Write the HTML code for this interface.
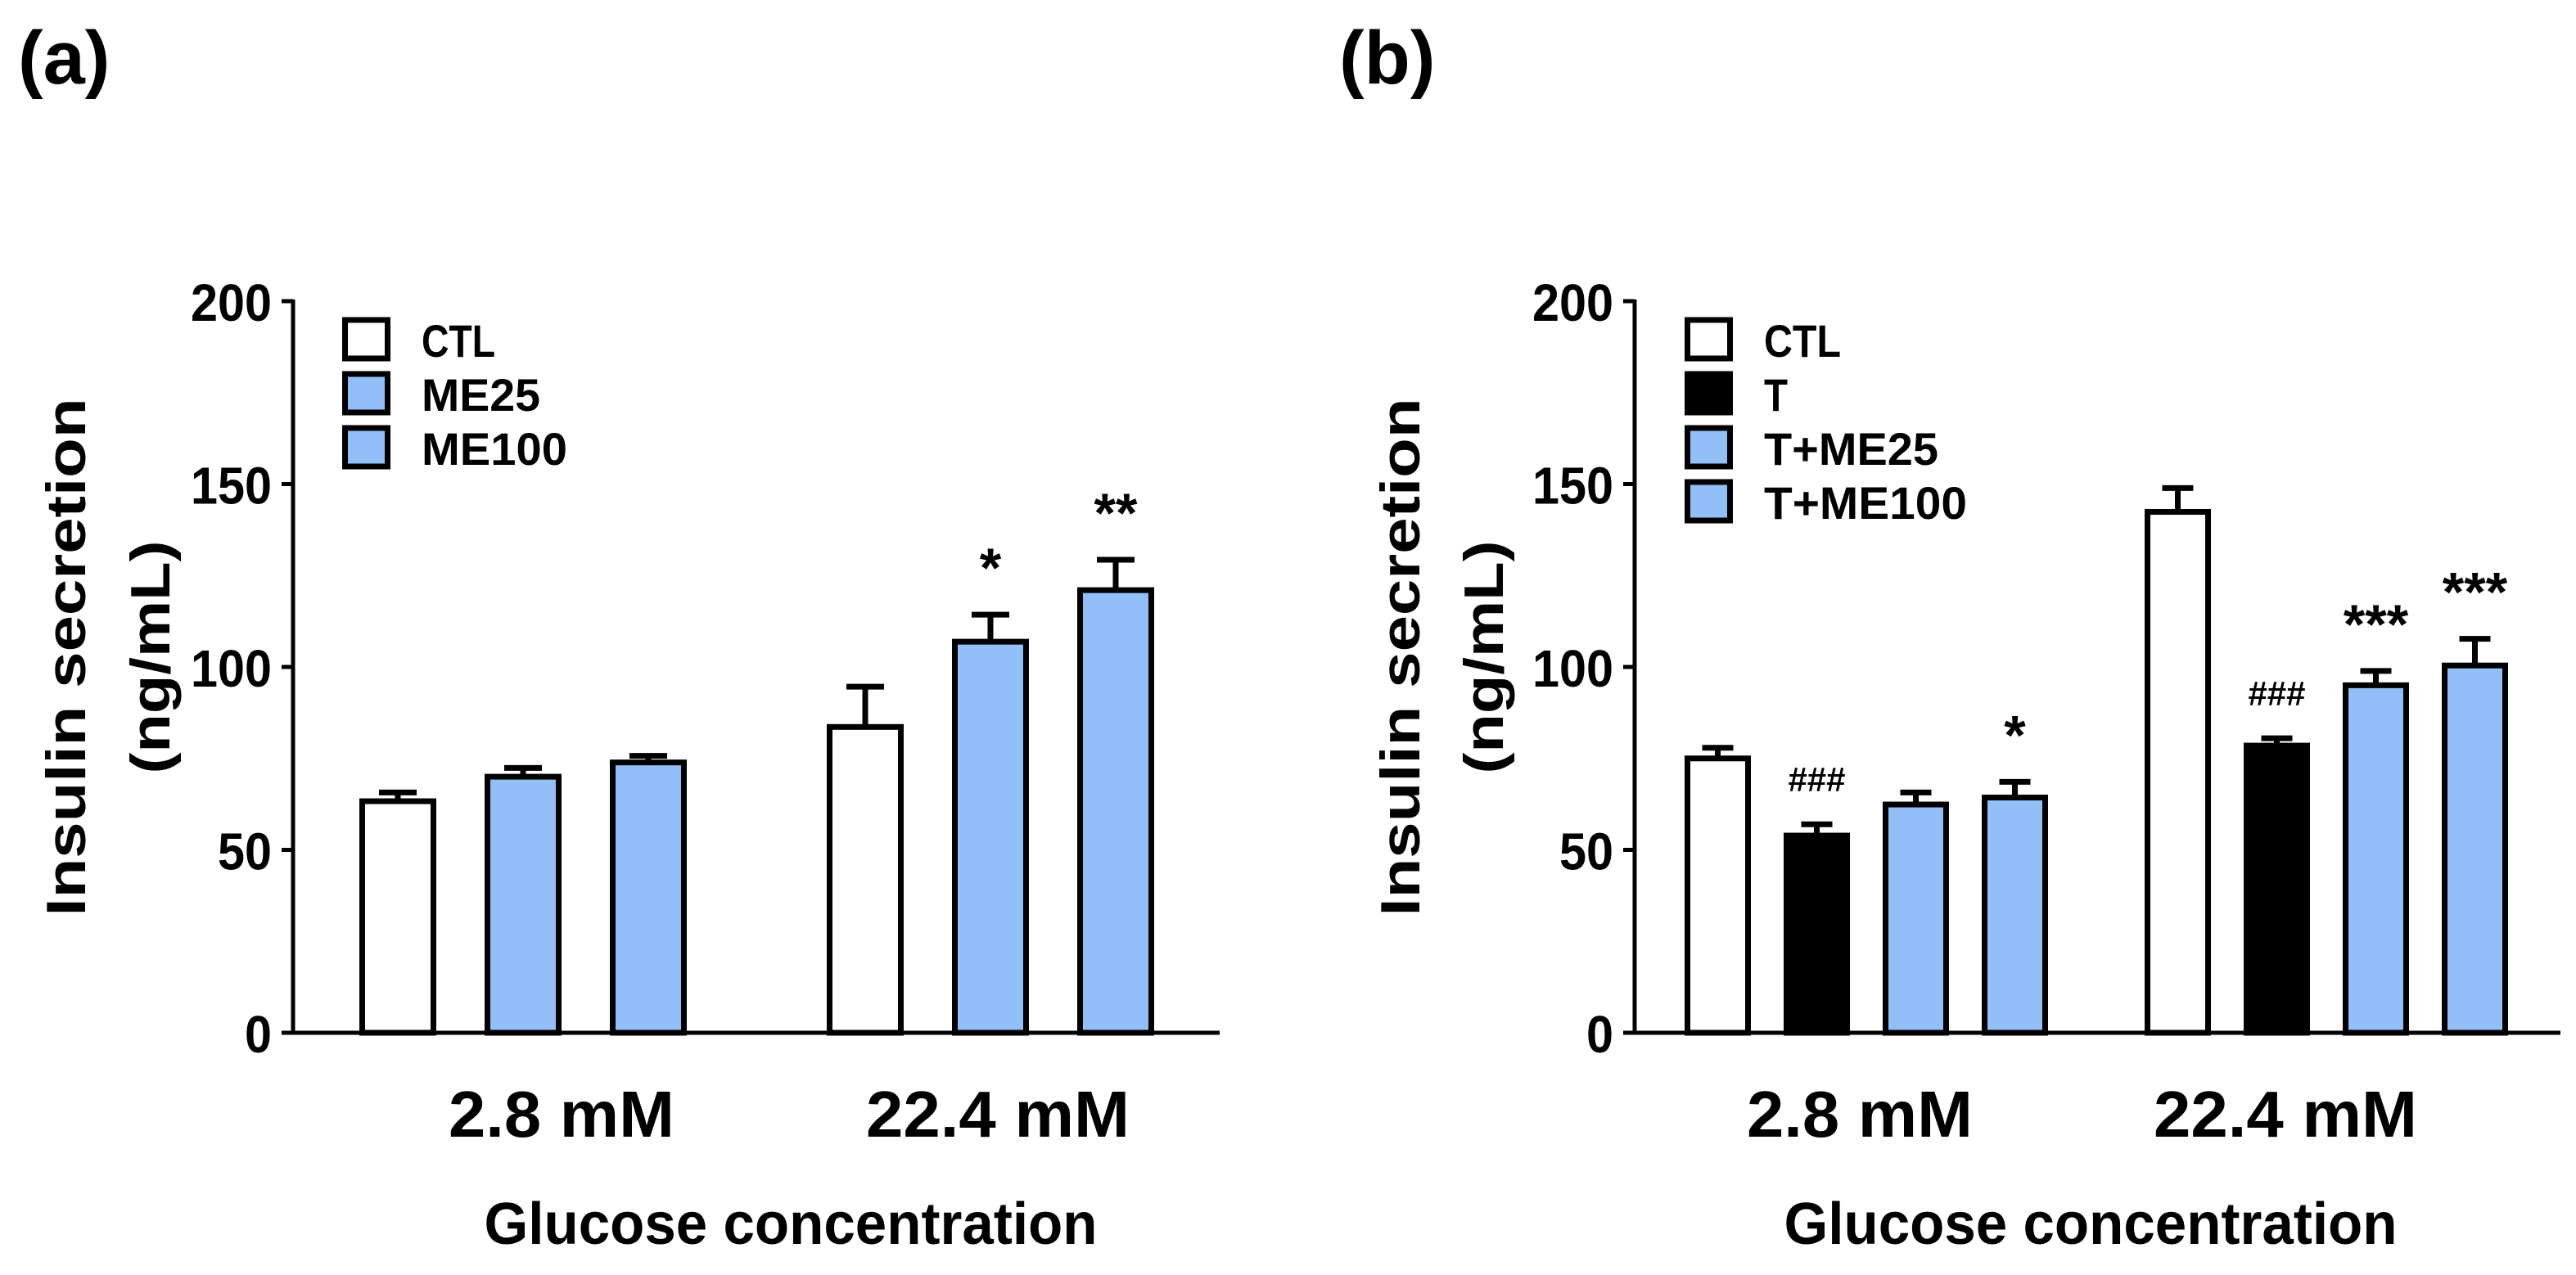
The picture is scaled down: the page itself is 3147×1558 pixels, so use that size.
<!DOCTYPE html>
<html><head><meta charset="utf-8">
<style>
html,body{margin:0;padding:0;background:#fff;}
svg{display:block;}
text{font-family:"Liberation Sans",sans-serif;font-weight:bold;fill:#000;}
</style></head>
<body>
<svg id="chart" width="3147" height="1558" viewBox="0 0 3147 1558" xmlns="http://www.w3.org/2000/svg">
<text x="22" y="102" font-size="92">(a)</text>
<text x="1636" y="102" font-size="92">(b)</text>
<g id="pa"></g>
<g id="pb"></g>
</svg>
<script>
const yTicks = [0, 50, 100, 150, 200];
const groupsLabels = ["2.8 mM", "22.4 mM"];
const aSeries = ["CTL", "ME25", "ME100"];
const aValues = [[63.3, 83.6], [70, 106.9], [73.9, 121]];
const aErrors = [[65.7, 94.6], [72.4, 114.3], [75.7, 129.3]];
const aMarks = [["", ""], ["", "*"], ["", "**"]];
const bSeries = ["CTL", "T", "T+ME25", "T+ME100"];
const bValues = [[75, 142.4], [53.9, 78.5], [62.4, 95], [64.3, 100.4]];
const bErrors = [[77.9, 148.9], [57, 80.5], [65.7, 98.9], [68.6, 107.7]];
const bMarks = [["", ""], ["###", "###"], ["", "***"], ["*", "***"]];

const NS = "http://www.w3.org/2000/svg";
function mk(parent, tag, attrs, txt) {
  const e = document.createElementNS(NS, tag);
  for (const k in attrs) e.setAttribute(k, attrs[k]);
  if (txt !== undefined) e.textContent = txt;
  parent.appendChild(e);
  return e;
}
const BLUE = "#92BFF7";
function yScale(v) { return 1262 - v * (894 / 200); }

function panel(g, cfg) {
  const ax = cfg.axisX;
  // axes
  let e = mk(g, "line", {x1: ax, y1: yScale(200) - 2, x2: ax, y2: yScale(0) + 2, stroke: "#000", "stroke-width": 5});
  
  
  e = mk(g, "line", {x1: ax - 14, y1: yScale(0), x2: cfg.axisEnd, y2: yScale(0), stroke: "#000", "stroke-width": 5});
  
  
  yTicks.forEach(t => {
    const y = yScale(t);
    const tk = mk(g, "line", {x1: ax - 14, y1: y, x2: ax, y2: y, stroke: "#000", "stroke-width": 5});
    
    
    const lb = mk(g, "text", {x: ax - 26, y: y + 24, "font-size": 64, "text-anchor": "end", "textLength": String(t).length * 33, "lengthAdjust": "spacingAndGlyphs"}, String(t));
    
    
  });
  // y title
  let t1 = mk(g, "text", {x: 0, y: 0, "font-size": 68, "text-anchor": "middle", "textLength": 633, "lengthAdjust": "spacingAndGlyphs", transform: `translate(${cfg.t1x},803) rotate(-90)`}, "Insulin secretion");
  
  
  let t2 = mk(g, "text", {x: 0, y: 0, "font-size": 68, "text-anchor": "middle", "textLength": 285, "lengthAdjust": "spacingAndGlyphs", transform: `translate(${cfg.t2x},803) rotate(-90)`}, "(ng/mL)");
  
  
  // bars
  const n = cfg.series.length;
  for (let gi = 0; gi < groupsLabels.length; gi++) {
    const gc = cfg.groupCenters[gi];
    for (let s = 0; s < n; s++) {
      const cx = gc + (s - (n - 1) / 2) * cfg.pitch;
      const v = cfg.values[s][gi], er = cfg.errors[s][gi];
      const yt = yScale(v), ye = yScale(er);
      const el = mk(g, "line", {x1: cx, y1: yt, x2: cx, y2: ye, stroke: "#000", "stroke-width": 7});
      
      
      const cap = mk(g, "line", {x1: cx - cfg.cap / 2, y1: ye, x2: cx + cfg.cap / 2, y2: ye, stroke: "#000", "stroke-width": 7});
      
      
      const r = mk(g, "rect", {x: cx - cfg.bw / 2, y: yt, width: cfg.bw, height: yScale(0) - yt, fill: cfg.fills[s], stroke: "#000", "stroke-width": 7});
      
      
      const m = cfg.marks[s][gi];
      if (m) {
        const hash = m[0] === "#";
        const mt = mk(g, "text", {x: cx, y: ye - (hash ? 40 : 34), "font-size": hash ? 42 : 68, "text-anchor": "middle"}, m);
        
        
      }
    }
    const gl = mk(g, "text", {x: cfg.labelCenters[gi], y: 1389, "font-size": 80, "text-anchor": "middle", "textLength": groupsLabels[gi].length * 46, "lengthAdjust": "spacingAndGlyphs"}, groupsLabels[gi]);
    
    
  }
  const xt = mk(g, "text", {x: cfg.xTitleCenter, y: 1520, "font-size": 72, "text-anchor": "middle", "textLength": 749, "lengthAdjust": "spacingAndGlyphs"}, "Glucose concentration");
  
  
  // legend
  cfg.series.forEach((s, i) => {
    const top = 391 + i * 66;
    const lb = mk(g, "rect", {x: cfg.legX + 3.5, y: top, width: 52, height: 47, fill: cfg.fills[i], stroke: "#000", "stroke-width": 7});
    
    
    const lt = mk(g, "text", {x: cfg.legX + 97, y: top + 45, "font-size": 56, "textLength": cfg.legW[i], "lengthAdjust": "spacingAndGlyphs"}, s);
    
    
  });
}

panel(document.getElementById("pa"), {
  axisX: 358, axisEnd: 1490, t1x: 104, t2x: 207,
  series: aSeries, values: aValues, errors: aErrors, marks: aMarks,
  fills: ["#fff", BLUE, BLUE],
  groupCenters: [639, 1210], pitch: 153, bw: 87, cap: 46,
  labelCenters: [686, 1219], xTitleCenter: 966,
  legX: 418, legW: [90, 145, 178]
});
panel(document.getElementById("pb"), {
  axisX: 1997, axisEnd: 3128, t1x: 1734, t2x: 1836,
  series: bSeries, values: bValues, errors: bErrors, marks: bMarks,
  fills: ["#fff", "#000", BLUE, BLUE],
  groupCenters: [2280, 2842], pitch: 121, bw: 74, cap: 38,
  labelCenters: [2272, 2792], xTitleCenter: 2554,
  legX: 2058, legW: [94, 29, 213, 248]
});
</script>
</body></html>
